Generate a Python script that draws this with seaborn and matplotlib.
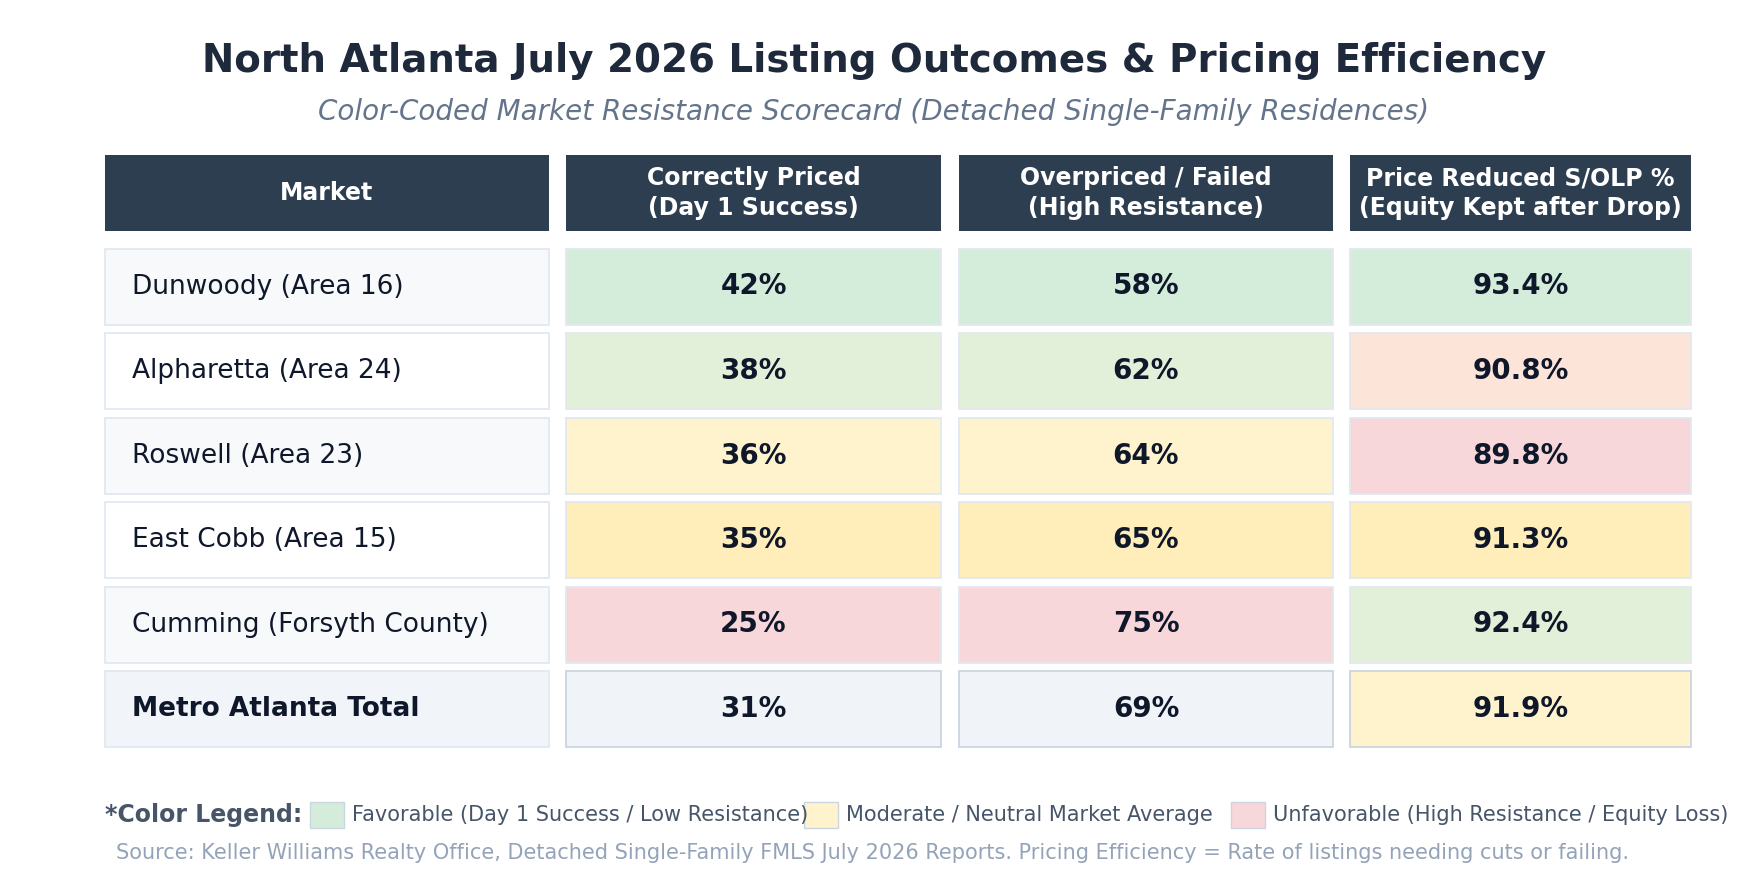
import numpy as np
import pandas as pd
import seaborn as sns
import matplotlib.pyplot as plt
from matplotlib.patches import Rectangle

sns.set_theme(style='white')
plt.rcParams['font.family'] = ['DejaVu Sans']

# data
markets = ['Dunwoody (Area 16)', 'Alpharetta (Area 24)', 'Roswell (Area 23)',
           'East Cobb (Area 15)', 'Cumming (Forsyth County)', 'Metro Atlanta Total']
correct_pct = [42, 38, 36, 35, 25, 31]
overpriced_pct = [58, 62, 64, 65, 75, 69]
solp_pct = [93.4, 90.8, 89.8, 91.3, 92.4, 91.9]
correct_tone = ['fav', 'fav2', 'mod', 'mod2', 'unf', 'base']
overpriced_tone = ['fav', 'fav2', 'mod', 'mod2', 'unf', 'base']
solp_tone = ['fav', 'warn', 'unf', 'mod2', 'fav2', 'mod']
headers = ['Market', 'Correctly Priced\n(Day 1 Success)', 'Overpriced / Failed\n(High Resistance)',
           'Price Reduced S/OLP %\n(Equity Kept after Drop)']
legend_labels = ['Favorable (Day 1 Success / Low Resistance)', 'Moderate / Neutral Market Average',
                 'Unfavorable (High Resistance / Equity Loss)']

df = pd.DataFrame({'market': markets, 'correct': correct_pct, 'over': overpriced_pct,
                   'solp': solp_pct, 'correct_tone': correct_tone,
                   'over_tone': overpriced_tone, 'solp_tone': solp_tone})

tones = {'fav': '#d4edda', 'fav2': '#e2efd9', 'mod': '#fff3cd', 'mod2': '#ffeeba',
         'warn': '#fde4d8', 'unf': '#f8d7da', 'base': '#f0f4f9'}

W, H = 1748, 886
fig = plt.figure(figsize=(W / 100, H / 100), dpi=100)
ax = fig.add_axes([0, 0, 1, 1])
ax.set_xlim(0, W)
ax.set_ylim(H, 0)
ax.axis('off')

col_x = [(105, 548.5), (566, 941), (959, 1333), (1350, 1691)]
head_top, head_bot = 155, 231
row_top0, row_h, row_pitch = 248.5, 76, 84.5

fig.text(0.5, 1 - 61 / H, 'North Atlanta July 2026 Listing Outcomes & Pricing Efficiency',
         ha='center', va='center', fontsize=27.9, fontweight='bold', color='#1e293b')
fig.text(0.5, 1 - 112 / H, 'Color-Coded Market Resistance Scorecard (Detached Single-Family Residences)',
         ha='center', va='center', fontsize=20, style='italic', color='#64748b')

# header
for (x0, x1), h in zip(col_x, headers):
    ax.add_patch(Rectangle((x0, head_top), x1 - x0, head_bot - head_top,
                           facecolor='#2c3e50', edgecolor='none'))
    ax.text((x0 + x1) / 2, (head_top + head_bot) / 2, h, ha='center', va='center',
            fontsize=17, fontweight='bold', color='white', linespacing=1.3)

# rows
for i, r in df.iterrows():
    y0 = row_top0 + i * row_pitch
    total = i == len(df) - 1
    x0, x1 = col_x[0]
    fill = '#f1f4f9' if total else ('#f8f9fb' if i % 2 == 0 else 'white')
    ax.add_patch(Rectangle((x0, y0), x1 - x0, row_h, facecolor=fill,
                           edgecolor='#e2e8f0', linewidth=1.3))
    ax.text(x0 + 27, y0 + row_h / 2, r['market'], ha='left', va='center', fontsize=19,
            fontweight='bold' if total else 'normal', color='#0f172a')
    cells = [(r['correct'], r['correct_tone'], '{:.0f}%'),
             (r['over'], r['over_tone'], '{:.0f}%'),
             (r['solp'], r['solp_tone'], '{:.1f}%')]
    for (cx0, cx1), (val, tone, fmt) in zip(col_x[1:], cells):
        ax.add_patch(Rectangle((cx0, y0), cx1 - cx0, row_h, facecolor=tones[tone],
                               edgecolor='#cbd5e1' if total else '#e2e8f0', linewidth=1.3))
        ax.text((cx0 + cx1) / 2, y0 + row_h / 2, fmt.format(val), ha='center', va='center',
                fontsize=20, fontweight='bold', color='#0f172a')

# legend
ly = 815
ax.text(105, ly, '*Color Legend:', ha='left', va='center', fontsize=17,
        fontweight='bold', color='#475569')
sw_x = [310, 804, 1231]
for sx, lab, t in zip(sw_x, legend_labels, ['fav', 'mod', 'unf']):
    ax.add_patch(Rectangle((sx, ly - 13), 34, 26, facecolor=tones[t],
                           edgecolor='#cbd5e1', linewidth=1))
    ax.text(sx + 42, ly, lab, ha='left', va='center', fontsize=15, color='#475569')

ax.text(116, 853, 'Source: Keller Williams Realty Office, Detached Single-Family FMLS July 2026 Reports. '
        'Pricing Efficiency = Rate of listings needing cuts or failing.',
        ha='left', va='center', fontsize=15, color='#94a3b8')

fig.savefig('out.png', dpi=100)
